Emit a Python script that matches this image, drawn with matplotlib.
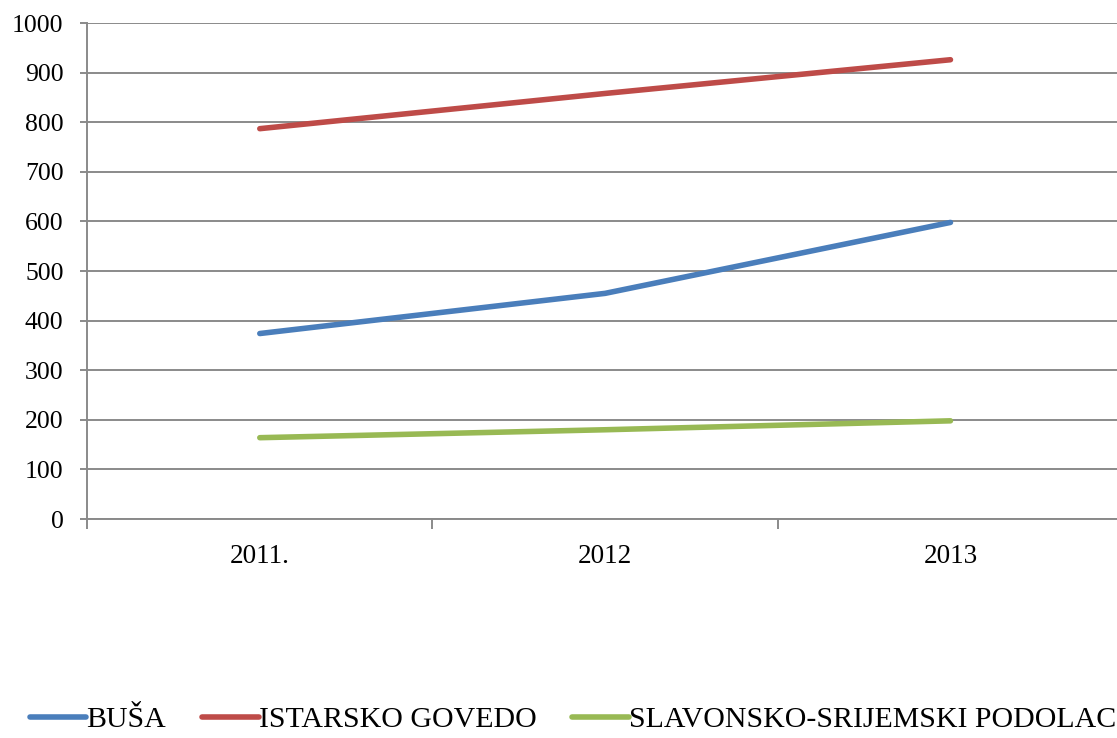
import numpy as np
import matplotlib.pyplot as plt

plt.rcParams['font.family'] = ['Liberation Serif', 'DejaVu Serif']

years = ["2011.", "2012", "2013"]
busa = [374, 455, 598]
istarsko = [787, 858, 926]
slavonsko = [164, 180, 198]

series = [
    ("BUŠA", busa, "#4A7EBB"),
    ("ISTARSKO GOVEDO", istarsko, "#BE4B48"),
    ("SLAVONSKO-SRIJEMSKI PODOLAC", slavonsko, "#98B954"),
]

fig = plt.figure(figsize=(11.17, 7.38), dpi=100)
ax = fig.add_axes([0.078, 0.2967, 0.9275, 0.6721])

x = np.arange(len(years)) + 0.5
for label, vals, color in series:
    ax.plot(x, vals, color=color, lw=4, solid_capstyle='round', label=label)

ax.set_xlim(0, len(years))
ax.set_ylim(0, 1000)
ax.set_yticks(np.arange(0, 1001, 100))
ax.yaxis.grid(True, color='#8a8a8a', lw=1.4)
ax.set_axisbelow(True)

ax.set_xticks(x)
ax.set_xticklabels(years, fontsize=19.5)
ax.set_xticks(np.arange(0, len(years) + 1), minor=True)
ax.tick_params(axis='x', which='major', length=0, pad=18)
ax.tick_params(axis='x', which='minor', length=7, width=1.4, color='#8a8a8a')
ax.tick_params(axis='y', length=5, width=1.4, color='#8a8a8a', labelsize=18.5, pad=12)

for s in ['top', 'right']:
    ax.spines[s].set_visible(False)
for s in ['left', 'bottom']:
    ax.spines[s].set_color('#8a8a8a')
    ax.spines[s].set_linewidth(1.4)

fig.legend(loc='lower center', bbox_to_anchor=(0.513, -0.03), ncol=3, frameon=False,
           fontsize=21.5, handlelength=1.9, handletextpad=0.0, columnspacing=1.2)

plt.savefig("out.png", dpi=100)
